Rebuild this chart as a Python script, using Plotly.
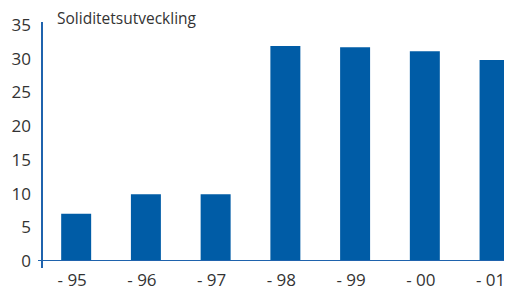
import plotly.graph_objects as go

categories = ["- 95", "- 96", "- 97", "- 98", "- 99", "- 00", "- 01"]
values = [7.0, 9.9, 9.9, 31.9, 31.7, 31.1, 29.8]
y_ticks = [0, 5, 10, 15, 20, 25, 30, 35]
title_text = "Soliditetsutveckling"

blue = "#005ca6"
axis_blue = "#1f63ad"
text_col = "#333333"
font_family = "Open Sans, Noto Sans, sans-serif"

# the page body has an 8px margin, so the figure is sized to fit the 512x286 window
fig = go.Figure(
    go.Bar(
        x=list(range(len(categories))),
        y=values,
        marker=dict(color=blue, line=dict(width=0)),
        width=0.43,
    )
)

fig.update_layout(
    width=504,
    height=278,
    margin=dict(l=34, r=0, t=14, b=25),
    paper_bgcolor="white",
    plot_bgcolor="white",
    showlegend=False,
    font=dict(family=font_family, color=text_col, size=16),
    xaxis=dict(
        range=[-0.49, 6.25],
        tickmode="array",
        tickvals=list(range(len(categories))),
        ticktext=categories,
        showgrid=False,
        zeroline=False,
        showline=False,
        ticks="",
        automargin=False,
        ticklabelshift=-4,
        ticklabelstandoff=7,
        tickfont=dict(size=17, color=text_col),
    ),
    yaxis=dict(
        range=[0, 35.45],
        tickmode="array",
        tickvals=y_ticks,
        showgrid=False,
        zeroline=False,
        showline=False,
        ticks="",
        automargin=False,
        ticklabelstandoff=10,
        tickfont=dict(size=17, color=text_col),
    ),
    shapes=[
        dict(type="line", xref="paper", yref="paper", x0=0, x1=0, y0=-0.029, y1=1.0,
             line=dict(color=axis_blue, width=2)),
        dict(type="line", xref="paper", yref="y", x0=-0.0085, x1=1.0, y0=0, y1=0,
             line=dict(color=axis_blue, width=2)),
    ],
    annotations=[
        dict(text=title_text, xref="paper", yref="paper", x=0.028, y=1.017,
             xanchor="left", yanchor="middle", showarrow=False,
             font=dict(size=15.5, color=text_col, family=font_family)),
    ],
)

fig.write_html("out.html")
